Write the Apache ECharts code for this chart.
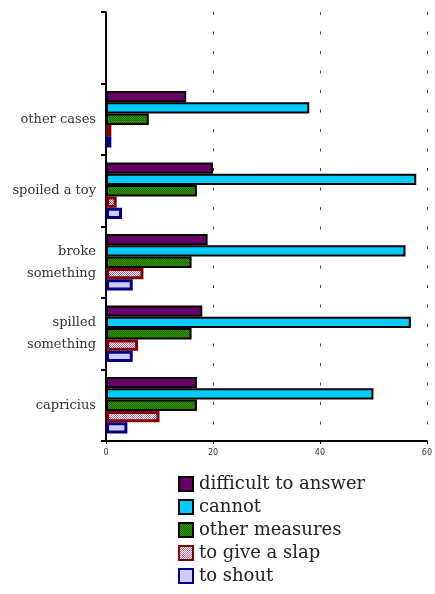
<!DOCTYPE html>
<html>
<head>
<meta charset="utf-8">
<script src="https://cdn.jsdelivr.net/npm/echarts@6/dist/echarts.min.js"></script>
<style>html,body{margin:0;padding:0;background:#fff}#c{width:435px;height:594px}</style>
</head>
<body>
<div id="c"></div>
<script>
const categories = ['capricius', 'spilled\nsomething', 'broke\nsomething', 'spoiled a toy', 'other cases', ''];
const difficultToAnswer = [17, 18, 19, 20, 15, null];
const cannot = [50, 57, 56, 58, 38, null];
const otherMeasures = [17, 16, 16, 17, 8, null];
const toGiveASlap = [10, 6, 7, 2, 1, null];
const toShout = [4, 5, 5, 3, 1, null];
const seriesNames = ['difficult to answer', 'cannot', 'other measures', 'to give a slap', 'to shout'];
const xTicks = [0, 20, 40, 60];

function pattern(bg, fg, size, cells) {
  const cv = document.createElement('canvas');
  cv.width = size; cv.height = size;
  const g = cv.getContext('2d');
  g.fillStyle = bg; g.fillRect(0, 0, size, size);
  g.fillStyle = fg;
  cells.forEach(c => g.fillRect(c[0], c[1], 1, 1));
  return { image: cv, repeat: 'repeat' };
}
const greenPat = pattern('#339900', '#1f6600', 2, [[0, 0], [1, 1]]);
const slapPat = pattern('#ffffff', '#cc6699', 2, [[0, 0], [1, 1]]);

const font = 'DejaVu Serif';
const chart = echarts.init(document.getElementById('c'));

function mk(name, data, fill, border, bw) {
  return {
    name: name, type: 'bar', data: data,
    barGap: '0%', barCategoryGap: '21%',
    itemStyle: { color: fill, borderColor: border, borderWidth: bw },
    emphasis: { disabled: true }
  };
}

chart.setOption({
  animation: false,
  grid: { left: 106, right: 5, top: 12, bottom: 153, containLabel: false },
  xAxis: {
    type: 'value', min: xTicks[0], max: xTicks[xTicks.length - 1], interval: 20,
    axisLine: { show: true, lineStyle: { color: '#000', width: 2 } },
    axisTick: { show: true, length: 3, lineStyle: { color: '#000' } },
    axisLabel: { fontSize: 8, color: '#333', fontFamily: 'DejaVu Sans', margin: 8 },
    splitLine: { show: true, lineStyle: { color: '#444', width: 1, type: [3, 16.5] } }
  },
  yAxis: {
    type: 'category', data: categories,
    axisLine: { show: true, lineStyle: { color: '#000', width: 2 } },
    axisTick: { show: true, length: 5, lineStyle: { color: '#000', width: 2 } },
    axisLabel: { fontSize: 13, color: '#333', fontFamily: font, lineHeight: 22, margin: 10 },
    splitLine: { show: false }
  },
  legend: {
    orient: 'vertical', left: 178, top: 475, height: 200, padding: 0,
    data: seriesNames,
    itemWidth: 14, itemHeight: 14, itemGap: 5,
    icon: 'rect',
    textStyle: { fontSize: 18, color: '#222', fontFamily: font, padding: [0, 0, 0, 1] }
  },
  series: [
    mk(seriesNames[0], difficultToAnswer, '#660066', '#000', 2),
    mk(seriesNames[1], cannot, '#00ccff', '#000', 2),
    mk(seriesNames[2], otherMeasures, greenPat, '#000', 2),
    mk(seriesNames[3], toGiveASlap, slapPat, '#800000', 3),
    mk(seriesNames[4], toShout, '#ccccff', '#000080', 3)
  ]
});
</script>
</body>
</html>
